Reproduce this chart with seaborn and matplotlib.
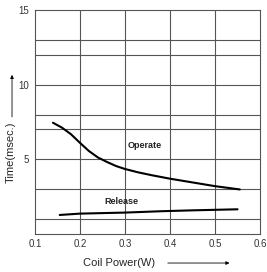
import pandas as pd
import matplotlib
matplotlib.use("Agg")
import matplotlib.pyplot as plt
import seaborn as sns

# Coil power (W) vs time (msec)
operate_x = [0.14, 0.16, 0.18, 0.20, 0.22, 0.24, 0.26, 0.28, 0.30, 0.33, 0.36, 0.40, 0.45, 0.50, 0.555]
operate_y = [7.45, 7.12, 6.68, 6.1, 5.55, 5.12, 4.82, 4.55, 4.35, 4.12, 3.93, 3.7, 3.45, 3.2, 2.98]
release_x = [0.155, 0.20, 0.30, 0.38, 0.45, 0.55]
release_y = [1.27, 1.36, 1.43, 1.52, 1.58, 1.65]

x_ticks = [0.1, 0.2, 0.3, 0.4, 0.5, 0.6]
x_tick_labels = ["0.1", "0.2", "0.3", "0.4", "0.5", "0.6"]
y_ticks = [5, 10, 15]
y_grid = [1, 3, 5, 7, 8, 10, 12, 13]

sns.set_style("white")
plt.rcParams['font.family'] = ['Liberation Sans', 'DejaVu Sans']

df = pd.concat([
    pd.DataFrame({"power": operate_x, "time": operate_y, "curve": "Operate"}),
    pd.DataFrame({"power": release_x, "time": release_y, "curve": "Release"}),
])

fig = plt.figure(figsize=(2.67, 2.72), dpi=100)
ax = fig.add_axes([0.131, 0.14, 0.843, 0.823])

# grid
for v in x_ticks[1:-1]:
    ax.axvline(v, color="#555555", lw=0.8, zorder=1)
for v in y_grid:
    ax.axhline(v, color="#555555", lw=0.8, zorder=1)

sns.lineplot(data=df, x="power", y="time", units="curve", estimator=None,
             color="black", lw=1.5, legend=False, ax=ax, zorder=3)

ax.set_xlim(0.1, 0.6)
ax.set_ylim(0, 15)
ax.set_xticks(x_ticks)
ax.set_xticklabels(x_tick_labels)
ax.set_yticks(y_ticks)
ax.tick_params(length=0, labelsize=7, pad=4, labelcolor="#333333")
for s in ax.spines.values():
    s.set_color("#555555")
    s.set_linewidth(0.8)

ax.text(0.344, 5.9, "Operate", fontsize=6.5, ha="center", va="center",
        fontweight="bold", color="#222222")
ax.text(0.293, 2.14, "Release", fontsize=6.5, ha="center", va="center",
        fontweight="bold", color="#222222")

ax.set_xlabel("")
ax.set_ylabel("")
fig.text(0.445, 0.033, "Coil Power(W)", fontsize=8, ha="center", va="center")
fig.text(0.04, 0.44, "Time(msec.)", fontsize=8, ha="center", va="center",
         rotation=90)
fig.add_artist(matplotlib.patches.FancyArrowPatch(
    (0.618, 0.033), (0.87, 0.033), transform=fig.transFigure,
    arrowstyle="-|>", mutation_scale=5, lw=0.6, color="black"))
fig.add_artist(matplotlib.patches.FancyArrowPatch(
    (0.045, 0.56), (0.045, 0.735), transform=fig.transFigure,
    arrowstyle="-|>", mutation_scale=5, lw=0.6, color="black"))

fig.savefig("out.png", dpi=100)
